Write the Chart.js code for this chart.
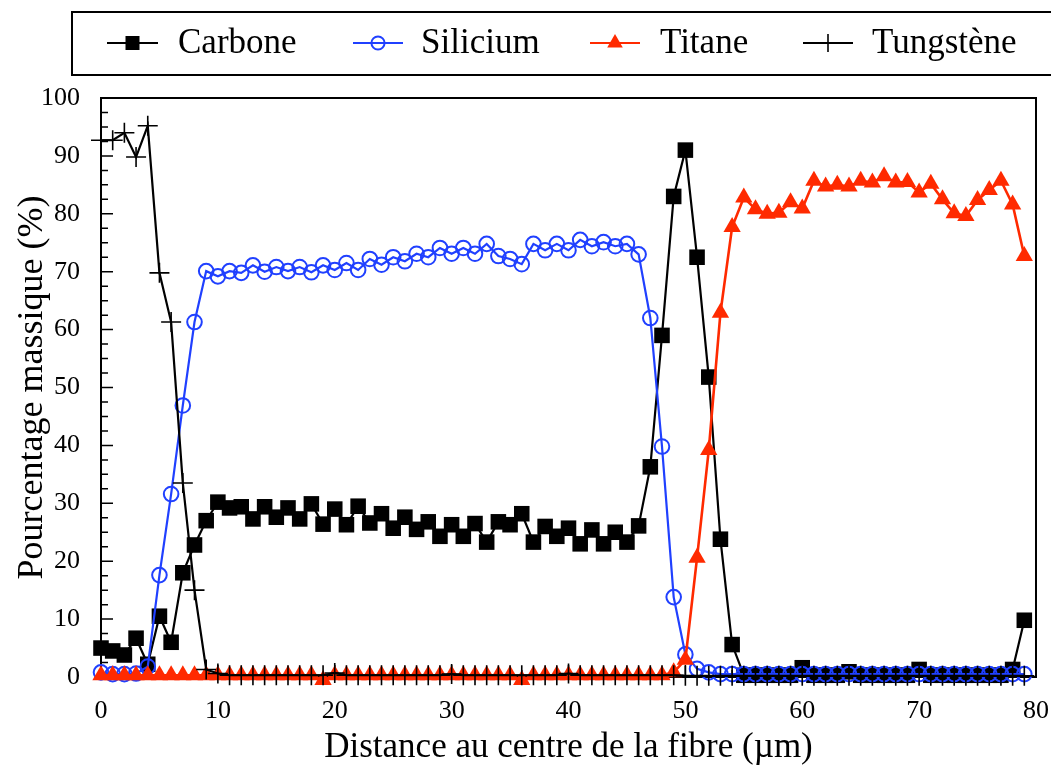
<!DOCTYPE html>
<html>
<head>
<meta charset="utf-8">
<script src="https://cdn.jsdelivr.net/npm/chart.js@4.4.1/dist/chart.umd.min.js"></script>
<style>
  html, body { margin: 0; padding: 0; background: #fff; }
  #wrap { width: 1051px; height: 771px; }
</style>
</head>
<body>
<div id="wrap"><canvas id="chart" width="1051" height="771"></canvas></div>
<script>
// distance from fibre centre (µm)
const distance = [0,1,2,3,4,5,6,7,8,9,10,11,12,13,14,15,16,17,18,19,20,21,22,23,24,25,26,27,28,29,
  30,31,32,33,34,35,36,37,38,39,40,41,42,43,44,45,46,47,48,49,50,51,52,53,54,55,56,57,58,59,
  60,61,62,63,64,65,66,67,68,69,70,71,72,73,74,75,76,77,78,79];

// mass percentages
const carbone = [5.0,4.5,3.8,6.7,2.2,10.5,6.0,18.0,22.8,27.0,30.2,29.2,29.4,27.3,29.4,27.6,29.2,27.3,29.9,26.4,
  29.0,26.3,29.5,26.6,28.2,25.7,27.6,25.5,26.8,24.3,26.3,24.3,26.5,23.3,26.8,26.3,28.2,23.3,26.0,24.3,
  25.7,23.0,25.4,23.0,25.0,23.3,26.1,36.3,59.0,83.0,91.0,72.5,51.8,23.8,5.6,0.3,0.3,0.3,0.3,0.3,
  1.6,0.3,0.3,0.3,0.9,0.3,0.3,0.3,0.3,0.3,1.3,0.3,0.3,0.3,0.3,0.3,0.3,0.3,1.3,9.8];
const silicium = [0.8,0.5,0.5,0.6,1.8,17.6,31.6,46.9,61.3,70.1,69.2,70.1,69.8,71.1,70.0,70.8,70.1,70.8,69.9,71.1,
  70.3,71.5,70.3,72.2,71.2,72.5,71.8,73.1,72.5,74.1,73.1,74.1,73.1,74.8,72.7,72.2,71.3,74.8,73.7,74.8,
  73.7,75.5,74.4,75.1,74.4,74.8,73.0,62.0,39.8,13.8,3.9,1.4,0.8,0.5,0.5,0.5,0.5,0.5,0.5,0.5,
  0.5,0.5,0.5,0.5,0.5,0.5,0.5,0.5,0.5,0.5,0.5,0.5,0.5,0.5,0.5,0.5,0.5,0.5,0.5,0.5];
const titane = [0.3,0.3,0.3,0.3,0.3,0.3,0.3,0.3,0.3,0.3,0.3,0.3,0.3,0.3,0.3,0.3,0.3,0.3,0.3,-0.5,
  0.3,0.3,0.3,0.3,0.3,0.3,0.3,0.3,0.3,0.3,0.3,0.3,0.3,0.3,0.3,0.3,-0.5,0.3,0.3,0.3,
  0.3,0.3,0.3,0.3,0.3,0.3,0.3,0.3,0.3,0.8,3.0,20.6,39.2,62.9,77.7,82.8,80.8,80.0,80.2,82.0,
  80.9,85.7,84.7,85.0,84.7,85.7,85.4,86.5,85.4,85.5,83.7,85.2,82.5,80.1,79.6,82.4,84.1,85.7,81.6,72.7];
const tungstene = [92.7,92.7,94.0,89.8,95.2,69.8,61.3,33.5,15.0,1.3,0.6,0.3,0.3,0.3,0.3,0.3,0.3,0.3,0.3,0.3,
  0.7,0.3,0.3,0.3,0.3,0.3,0.3,0.3,0.3,0.3,0.5,0.3,0.3,0.3,0.3,0.3,0.3,0.3,0.3,0.3,
  0.6,0.3,0.3,0.3,0.3,0.3,0.3,0.3,0.3,0.3,0.2,0.2,0.2,0.2,0.2,0.2,0.2,0.2,0.2,0.2,
  0.2,0.2,0.2,0.2,0.2,0.2,0.2,0.2,0.2,0.2,0.2,0.2,0.2,0.2,0.2,0.2,0.2,0.2,0.2,0.2];

const seriesNames = ['Carbone', 'Silicium', 'Titane', 'Tungstène'];
const xTicks = [0, 10, 20, 30, 40, 50, 60, 70, 80];
const yTicks = [0, 10, 20, 30, 40, 50, 60, 70, 80, 90, 100];

const SERIF = "'Liberation Serif', 'DejaVu Serif', serif";
const pts = vals => distance.map((d, i) => ({ x: d, y: vals[i] }));

// frame + inward ticks, drawn under the data
const frameTicks = {
  id: 'frameTicks',
  beforeDatasetsDraw(chart) {
    const { ctx, chartArea: a, scales: { x, y } } = chart;
    ctx.save();
    ctx.strokeStyle = '#000';
    ctx.lineWidth = 2;
    ctx.strokeRect(a.left, a.top, a.right - a.left, a.bottom - a.top);
    ctx.lineWidth = 1.5;
    ctx.beginPath();
    for (let v = 0; v <= 100; v += 2.5) {
      const py = y.getPixelForValue(v);
      const len = v % 10 === 0 ? 12 : 7;
      ctx.moveTo(a.left, py);
      ctx.lineTo(a.left + len, py);
    }
    for (let v = 0; v <= 80; v += 2) {
      const px = x.getPixelForValue(v);
      const len = v % 10 === 0 ? 12 : 7;
      ctx.moveTo(px, a.bottom);
      ctx.lineTo(px, a.bottom - len);
    }
    ctx.stroke();
    ctx.restore();
  }
};

// boxed legend across the top, line + marker for each series
const boxLegend = {
  id: 'boxLegend',
  afterDraw(chart) {
    const ctx = chart.ctx;
    const slots = [[107, 158, 178], [353, 403, 421], [590, 640, 660], [803, 853, 872]];
    const cy = 43;
    ctx.save();
    ctx.strokeStyle = '#000';
    ctx.lineWidth = 2;
    ctx.strokeRect(72, 12, 1000, 63);
    chart.data.datasets.forEach((ds, i) => {
      const [x1, x2, tx] = slots[i];
      ctx.strokeStyle = ds.borderColor;
      ctx.lineWidth = 2;
      ctx.beginPath();
      ctx.moveTo(x1, cy);
      ctx.lineTo(x2, cy);
      ctx.stroke();
      ctx.fillStyle = ds.pointBackgroundColor;
      ctx.strokeStyle = ds.pointBorderColor;
      ctx.lineWidth = ds.pointBorderWidth;
      Chart.helpers.drawPoint(ctx, {
        pointStyle: ds.pointStyle, radius: ds.pointRadius * 0.9, rotation: 0, borderWidth: ds.pointBorderWidth
      }, (x1 + x2) / 2, cy);
      ctx.fillStyle = '#000';
      ctx.font = '35px ' + SERIF;
      ctx.textBaseline = 'middle';
      ctx.textAlign = 'left';
      ctx.fillText(ds.label, tx, cy + 1);
    });
    ctx.restore();
  }
};

const ctx = document.getElementById('chart').getContext('2d');
new Chart(ctx, {
  type: 'line',
  data: {
    datasets: [
      {
        label: seriesNames[0], data: pts(carbone), order: 4,
        borderColor: '#000', borderWidth: 2.2,
        pointStyle: 'rect', pointRadius: 11, pointBackgroundColor: '#000', pointBorderColor: '#000', pointBorderWidth: 0
      },
      {
        label: seriesNames[1], data: pts(silicium), order: 3,
        borderColor: '#2040ff', borderWidth: 2.2,
        pointStyle: 'circle', pointRadius: 7.3, pointBackgroundColor: 'rgba(0,0,0,0)', pointBorderColor: '#2040ff', pointBorderWidth: 2
      },
      {
        label: seriesNames[2], data: pts(titane), order: 2,
        borderColor: '#ff2a00', borderWidth: 2.6,
        pointStyle: 'triangle', pointRadius: 10, pointBackgroundColor: '#ff2a00', pointBorderColor: '#ff2a00', pointBorderWidth: 0
      },
      {
        label: seriesNames[3], data: pts(tungstene), order: 1,
        borderColor: '#000', borderWidth: 2.2,
        pointStyle: 'cross', pointRadius: 10, pointBackgroundColor: '#000', pointBorderColor: '#000', pointBorderWidth: 1.6
      }
    ]
  },
  options: {
    responsive: false,
    animation: false,
    layout: { padding: { top: 98, right: 15, left: 0, bottom: 0 } },
    elements: { line: { tension: 0 } },
    datasets: { line: { clip: false } },
    plugins: { legend: { display: false }, tooltip: { enabled: false } },
    scales: {
      x: {
        type: 'linear', min: 0, max: 80,
        afterBuildTicks: s => { s.ticks = xTicks.map(v => ({ value: v })); },
        afterFit: s => { s.height = 94; s.paddingLeft = 0; s.paddingRight = 0; },
        grid: { display: false },
        border: { display: false },
        ticks: { color: '#000', padding: 11, maxRotation: 0, font: { family: SERIF, size: 26 } },
        title: {
          display: true, text: 'Distance au centre de la fibre (µm)', color: '#000',
          font: { family: SERIF, size: 35 }, padding: { top: 0, bottom: 2 }
        }
      },
      y: {
        min: 0, max: 100,
        afterBuildTicks: s => { s.ticks = yTicks.map(v => ({ value: v })); },
        afterFit: s => { s.width = 101; s.paddingTop = 0; s.paddingBottom = 0; },
        grid: { display: false },
        border: { display: false },
        ticks: { color: '#000', padding: 13, font: { family: SERIF, size: 26 } },
        title: {
          display: true, text: 'Pourcentage massique (%)', color: '#000',
          font: { family: SERIF, size: 36 }, padding: { top: 11, bottom: 0 }
        }
      }
    }
  },
  plugins: [frameTicks, boxLegend]
});
</script>
</body>
</html>
